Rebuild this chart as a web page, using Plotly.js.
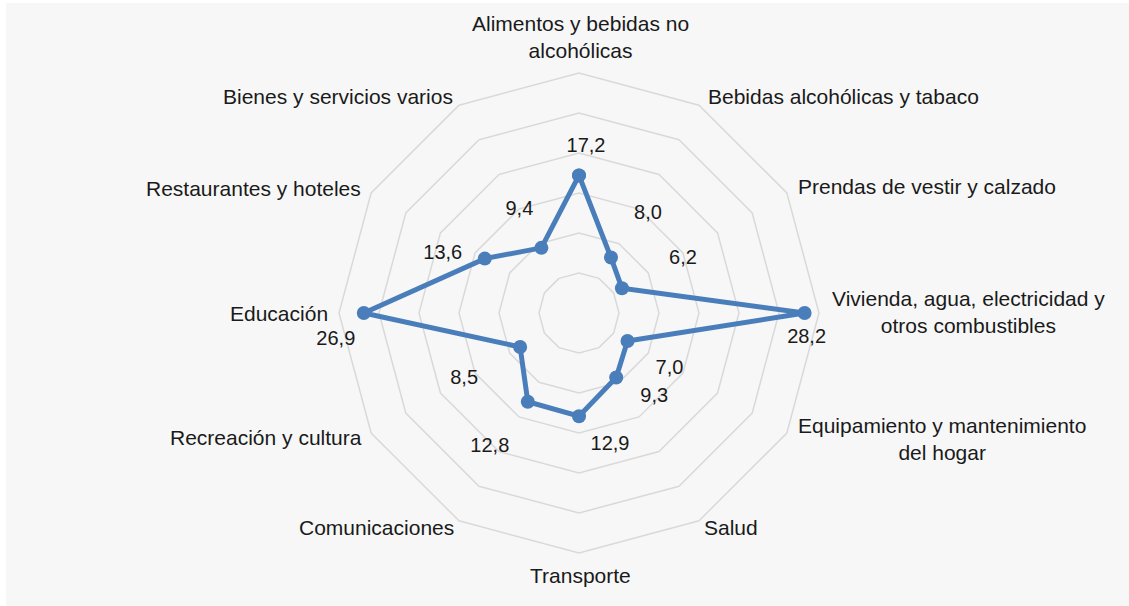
<!DOCTYPE html>
<html>
<head>
<meta charset="utf-8">
<script src="https://cdn.plot.ly/plotly-3.0.1.min.js"></script>
<style>
  html, body { margin: 0; padding: 0; background: #ffffff; }
  #chart { width: 1129px; height: 606px; }
</style>
</head>
<body>
<div id="chart"></div>
<script>
// ---- Data ----
const categories = [
  "Alimentos y bebidas no alcohólicas",
  "Bebidas alcohólicas y tabaco",
  "Prendas de vestir y calzado",
  "Vivienda, agua, electricidad y otros combustibles",
  "Equipamiento y mantenimiento del hogar",
  "Salud",
  "Transporte",
  "Comunicaciones",
  "Recreación y cultura",
  "Educación",
  "Restaurantes y hoteles",
  "Bienes y servicios varios"
];
const categoryLabels = [
  "Alimentos y bebidas no<br>alcohólicas",
  "Bebidas alcohólicas y tabaco",
  "Prendas de vestir y calzado",
  "Vivienda, agua, electricidad y<br>otros combustibles",
  "Equipamiento y mantenimiento<br>del hogar",
  "Salud",
  "Transporte",
  "Comunicaciones",
  "Recreación y cultura",
  "Educación",
  "Restaurantes y hoteles",
  "Bienes y servicios varios"
];
const values = [17.2, 8.0, 6.2, 28.2, 7.0, 9.3, 12.9, 12.8, 8.5, 26.9, 13.6, 9.4];

// ---- Styling / layout ----
const W = 1129, H = 606;
const radialMax = 30;
const centerPx = [579, 313];      // polar centre (px from left / top)
const radiusPx = 240;             // outer polygon radius in px
const domX = [(centerPx[0] - radiusPx) / W, (centerPx[0] + radiusPx) / W];
const domY = [(H - centerPx[1] - radiusPx) / H, (H - centerPx[1] + radiusPx) / H];
// wider, invisible overlay used only to place the value labels
const radius2Px = H - centerPx[1] - 20;
const domX2 = [(centerPx[0] - radius2Px) / W, (centerPx[0] + radius2Px) / W];
const domY2 = [(H - centerPx[1] - radius2Px) / H, (H - centerPx[1] + radius2Px) / H];
const radial2Max = radialMax * radius2Px / radiusPx;

// pixel offsets of the value labels from their points (dx right, dy down)
const valueLabelOffsets = [
  [7, -28], [37, -44], [61, -29], [2, 25], [42, 28], [38, 20],
  [31, 29], [-38, 45], [-56, 32], [-28, 27], [-42, -5], [-22, -38]
];
// pixel offsets of the category label centres from the outer polygon vertices
const categoryLabelOffsets = [
  [1, -36], [144, -9], [140, -6], [149, -1], [155, 6], [32, 7],
  [1, 22], [-83, 7], [-105, 4], [-60, 0], [-118, -5], [-121, -9]
];

const fontFamily = "Liberation Sans, Arial, sans-serif";
const textColor = "#1a1a1a";
const lineColor = "#4a7ebb";
const gridColor = "#d9d9d9";

const k = radiusPx / radialMax;   // px per radial unit
const n = categories.length;

function labelPolar(radii, offsets) {
  const r = [], th = [];
  radii.forEach((v, i) => {
    const a = (i * 360 / n) * Math.PI / 180;
    const px = v * k * Math.sin(a) + offsets[i][0];
    const py = v * k * Math.cos(a) - offsets[i][1];
    r.push(Math.hypot(px, py) / k);
    let t = Math.atan2(px, py) * 180 / Math.PI;
    if (t < 0) t += 360;
    th.push(t);
  });
  return { r: r, theta: th };
}

const valPos = labelPolar(values, valueLabelOffsets);
const valueText = values.map(v => v.toFixed(1).replace('.', ','));

const annotations = categoryLabels.map((txt, i) => {
  const a = (i * 360 / n) * Math.PI / 180;
  const x = centerPx[0] + radiusPx * Math.sin(a) + categoryLabelOffsets[i][0];
  const y = centerPx[1] - radiusPx * Math.cos(a) + categoryLabelOffsets[i][1];
  return {
    xref: 'paper', yref: 'paper', x: x / W, y: 1 - y / H,
    xanchor: 'center', yanchor: 'middle', align: 'center',
    text: txt, showarrow: false,
    font: { family: fontFamily, size: 21, color: textColor }
  };
});

const traces = [
  {
    type: 'scatterpolar',
    subplot: 'polar',
    r: values.concat([values[0]]),
    theta: categories.concat([categories[0]]),
    mode: 'lines+markers',
    line: { color: lineColor, width: 5 },
    marker: { color: lineColor, size: 14 },
    hoverinfo: 'skip',
    showlegend: false
  },
  {
    type: 'scatterpolar',
    subplot: 'polar2',
    r: valPos.r,
    theta: valPos.theta,
    text: valueText,
    mode: 'text',
    textposition: 'middle center',
    cliponaxis: false,
    textfont: { family: fontFamily, size: 20, color: textColor },
    hoverinfo: 'skip',
    showlegend: false
  }
];

const layout = {
  width: W,
  height: H,
  margin: { l: 0, r: 0, t: 0, b: 0 },
  paper_bgcolor: '#ffffff',
  showlegend: false,
  font: { family: fontFamily, size: 21, color: textColor },
  annotations: annotations,
  shapes: [{
    type: 'rect', xref: 'paper', yref: 'paper',
    x0: 6 / W, x1: 1, y0: 0, y1: 1 - 3 / H,
    fillcolor: '#f7f7f7', line: { width: 0 }, layer: 'below'
  }],
  polar: {
    domain: { x: domX, y: domY },
    bgcolor: 'rgba(0,0,0,0)',
    gridshape: 'linear',
    radialaxis: {
      range: [0, radialMax], dtick: 5, tick0: 0,
      showticklabels: false, ticks: '', showline: false,
      gridcolor: gridColor, gridwidth: 1.5
    },
    angularaxis: {
      type: 'category',
      rotation: 90, direction: 'clockwise',
      categoryarray: categories,
      showgrid: false, ticks: '', showticklabels: false,
      showline: true, linecolor: gridColor, linewidth: 1.5
    }
  },
  polar2: {
    domain: { x: domX2, y: domY2 },
    bgcolor: 'rgba(0,0,0,0)',
    radialaxis: { range: [0, radial2Max], visible: false },
    angularaxis: { type: 'linear', rotation: 90, direction: 'clockwise', visible: false }
  }
};

Plotly.newPlot('chart', traces, layout, { displayModeBar: false, staticPlot: true });
</script>
</body>
</html>
